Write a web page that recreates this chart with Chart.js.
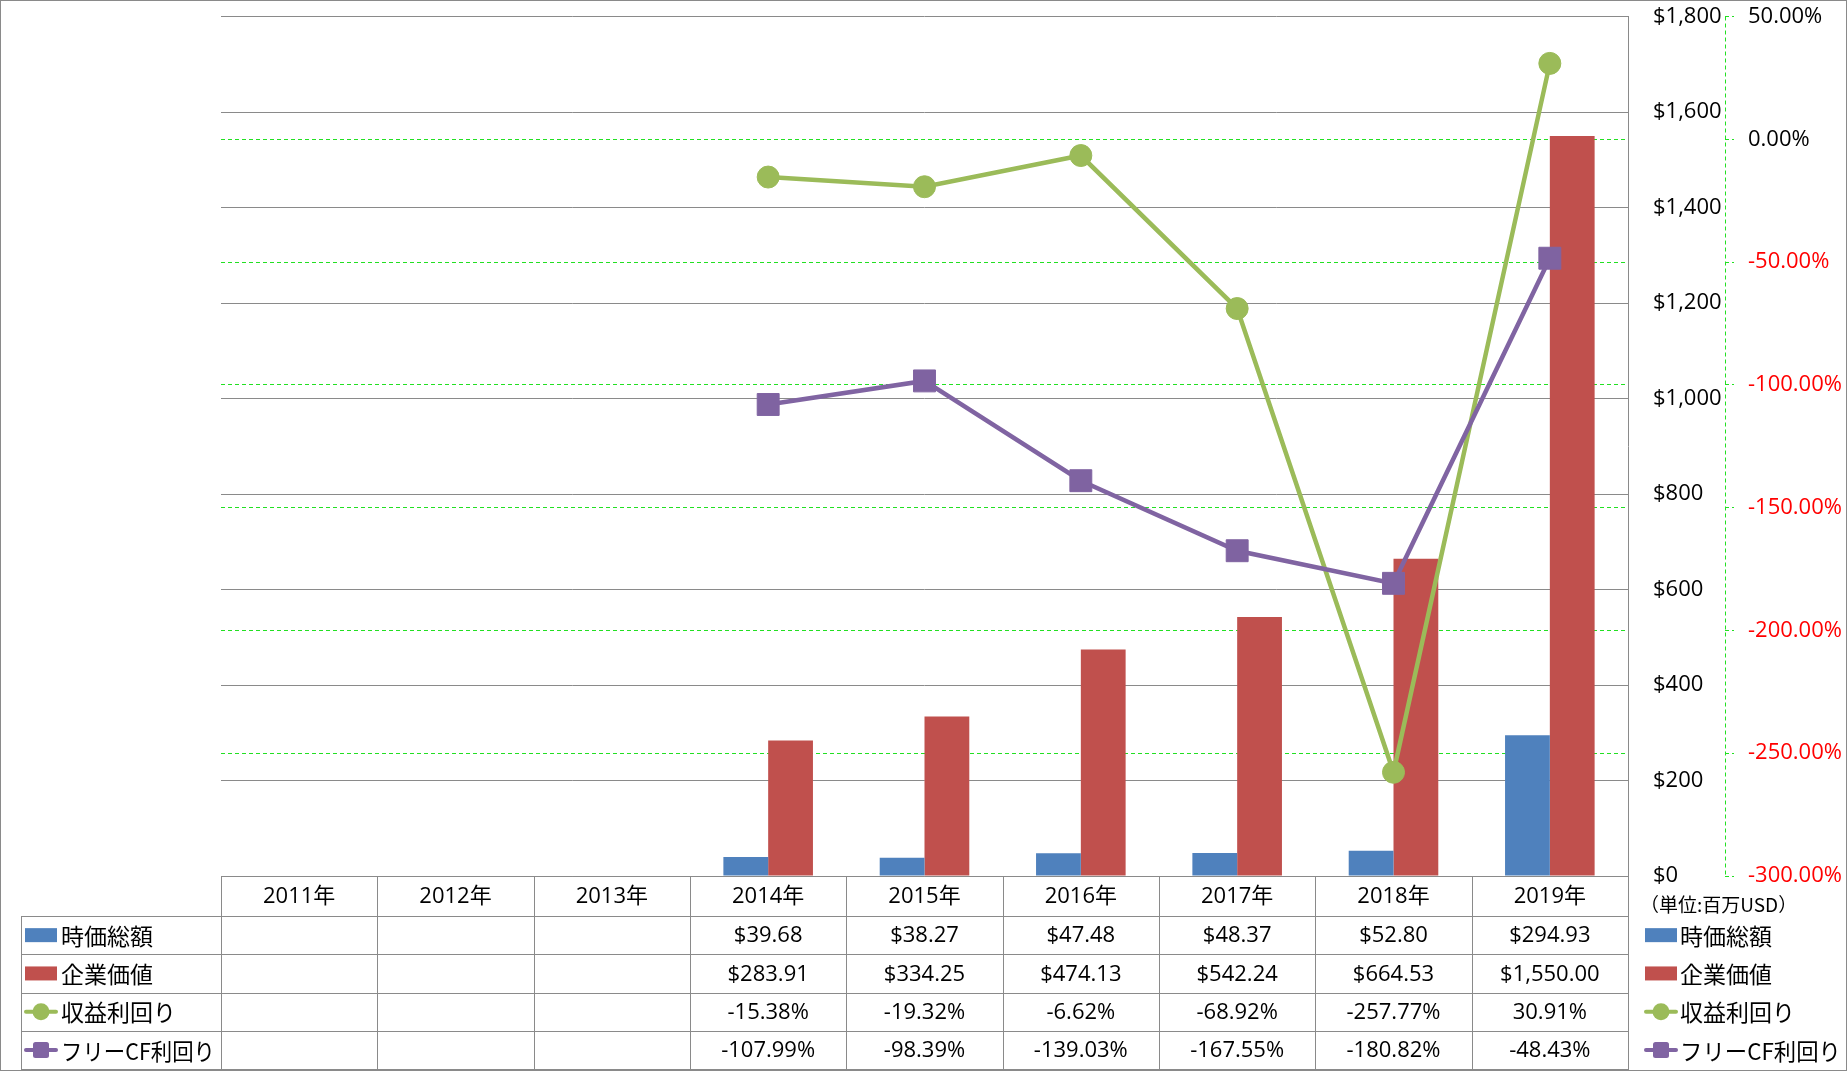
<!DOCTYPE html>
<html><head><meta charset="utf-8">
<script src="https://cdn.jsdelivr.net/npm/chart.js@4.4.1/dist/chart.umd.min.js"></script>
<style>html,body{margin:0;padding:0;background:#fff;overflow:hidden}#wrap{width:1847px;height:1071px}</style>
</head><body><div id="wrap"><canvas id="c" width="1847" height="1071"></canvas></div>
<script>
const categories = ['2011年','2012年','2013年','2014年','2015年','2016年','2017年','2018年','2019年'];
const marketCap = [null,null,null,39.68,38.27,47.48,48.37,52.80,294.93];
const enterpriseValue = [null,null,null,283.91,334.25,474.13,542.24,664.53,1550.00];
const earningsYield = [null,null,null,-15.38,-19.32,-6.62,-68.92,-257.77,30.91];
const fcfYield = [null,null,null,-107.99,-98.39,-139.03,-167.55,-180.82,-48.43];
const seriesNames = ['時価総額','企業価値','収益利回り','フリーCF利回り'];
const unitLabel = '（単位:百万USD）';
const usdRange = [0, 1800, 200];
const pctRange = [-300, 50, 50];

const BLUE='#4F81BD', RED='#C0504D', GREEN='#9BBB59', PURPLE='#8064A2';
const GRID='#8a8a8a', DGREEN='#22e022';
const LATIN='"Open Sans","Noto Sans CJK JP",sans-serif';
const CJK='"Noto Sans CJK JP",sans-serif';

const fmtUSD = v => '$' + v.toLocaleString('en-US',{minimumFractionDigits:2,maximumFractionDigits:2});
const fmtPct = v => v.toFixed(2) + '%';
const tableRows = [
  {vals: marketCap, fmt: fmtUSD},
  {vals: enterpriseValue, fmt: fmtUSD},
  {vals: earningsYield, fmt: fmtPct},
  {vals: fcfYield, fmt: fmtPct}
];

function drawMarker(ctx, idx, x, y){
  ctx.save();
  if (idx === 0 || idx === 1){
    ctx.fillStyle = idx===0?BLUE:RED;
    ctx.fillRect(x, y-7, 32, 14);
  } else {
    const col = idx===2?GREEN:PURPLE;
    ctx.strokeStyle = col; ctx.lineWidth = 4; ctx.lineCap='round';
    ctx.beginPath(); ctx.moveTo(x+1,y); ctx.lineTo(x+31,y); ctx.stroke();
    ctx.fillStyle = col;
    if (idx===2){ ctx.beginPath(); ctx.arc(x+16,y,8.5,0,Math.PI*2); ctx.fill(); }
    else { ctx.beginPath(); ctx.roundRect(x+8,y-8,16,16,2.5); ctx.fill(); }
  }
  ctx.restore();
}

function fitText(ctx, text, x, y, maxW){
  const w = ctx.measureText(text).width;
  if (w <= maxW){ ctx.fillText(text, x, y); return; }
  ctx.save();
  ctx.translate(x, y);
  ctx.scale(maxW / w, 1);
  ctx.fillText(text, 0, 0);
  ctx.restore();
}

const tablePlugin = {
  id:'dataTable',
  afterDraw(chart){
    const {ctx, chartArea, scales} = chart;
    const x = scales.x;
    const n = categories.length;
    const L = chartArea.left, R = chartArea.right;
    const cw = (R-L)/n;
    const top = chartArea.bottom;
    const headH = 40, rowH = 38.3;
    const bottom = top + headH + rowH*4;
    const labelLeft = 21;
    const p = v => Math.round(v)+0.5;
    ctx.save();
    // y1 dashed axis line
    const y1 = scales.y1;
    ctx.strokeStyle = DGREEN; ctx.lineWidth = 1; ctx.setLineDash([4,3]);
    ctx.beginPath(); ctx.moveTo(p(y1.left), y1.top); ctx.lineTo(p(y1.left), y1.bottom); ctx.stroke();
    ctx.setLineDash([]);
    // table grid
    ctx.strokeStyle = GRID; ctx.lineWidth = 1;
    ctx.beginPath();
    ctx.moveTo(L, p(top)); ctx.lineTo(R, p(top));
    for (let r=0;r<=4;r++){
      const yy = p(top + headH + r*rowH);
      ctx.moveTo(labelLeft, yy); ctx.lineTo(R+1, yy);
    }
    for (let i=0;i<=n;i++){
      const xx = p(L + i*cw);
      ctx.moveTo(xx, top); ctx.lineTo(xx, bottom);
    }
    ctx.moveTo(p(labelLeft), top+headH); ctx.lineTo(p(labelLeft), bottom);
    ctx.stroke();
    // header
    ctx.fillStyle = '#000';
    ctx.textAlign = 'center'; ctx.textBaseline = 'middle';
    ctx.font = '22px '+LATIN;
    categories.forEach((c,i)=>{ ctx.fillText(c, x.getPixelForValue(i), top + headH/2 + 1); });
    // rows
    tableRows.forEach((row, r)=>{
      const yc = top + headH + r*rowH + rowH/2 + 1;
      row.vals.forEach((v,i)=>{
        if (v === null) return;
        ctx.fillText(row.fmt(v), x.getPixelForValue(i), yc);
      });
    });
    // legends (left in table, right side)
    ctx.textAlign = 'left';
    ctx.font = '23px '+CJK;
    seriesNames.forEach((name, r)=>{
      const yc = top + headH + r*rowH + rowH/2;
      drawMarker(ctx, r, 25, yc);
      ctx.fillStyle='#000';
      fitText(ctx, name, 61, yc+1, L - 61 - 6);
      drawMarker(ctx, r, 1645, yc);
      ctx.fillStyle='#000';
      fitText(ctx, name, 1680, yc+1, chart.width - 1680 - 6);
    });
    // unit label
    ctx.font = '19px '+CJK;
    ctx.fillText(unitLabel, 1640, 905);
    // outer border
    ctx.strokeStyle = GRID;
    ctx.strokeRect(0.5,0.5,chart.width-1,chart.height-1);
    ctx.restore();
  }
};

new Chart(document.getElementById('c'), {
  type:'bar',
  data:{
    labels: categories,
    datasets:[
      {type:'line', label:seriesNames[3], data:fcfYield, yAxisID:'y1', order:1,
       borderColor:PURPLE, backgroundColor:PURPLE, borderWidth:4.5,
       pointStyle:'rect', pointRadius:15.5, pointBackgroundColor:'#7f63a1', pointBorderColor:PURPLE, pointBorderWidth:1},
      {type:'line', label:seriesNames[2], data:earningsYield, yAxisID:'y1', order:2,
       borderColor:GREEN, backgroundColor:GREEN, borderWidth:4.5,
       pointStyle:'circle', pointRadius:11, pointBackgroundColor:GREEN, pointBorderColor:GREEN, pointBorderWidth:1},
      {label:seriesNames[0], data:marketCap, backgroundColor:BLUE, yAxisID:'y', order:3,
       categoryPercentage:0.573, barPercentage:1.0},
      {label:seriesNames[1], data:enterpriseValue, backgroundColor:RED, yAxisID:'y', order:4,
       categoryPercentage:0.573, barPercentage:1.0}
    ]
  },
  options:{
    responsive:false, animation:false, devicePixelRatio:1,
    layout:{padding:{left:221, top:15, right:0, bottom:195}},
    plugins:{legend:{display:false}, tooltip:{enabled:false}},
    scales:{
      x:{display:false, offset:true},
      y:{position:'right', weight:0, min:usdRange[0], max:usdRange[1],
         ticks:{stepSize:usdRange[2], padding:0, crossAlign:'near', color:'#000',
                font:{family:LATIN, size:22}, callback:v=>'$'+v.toLocaleString('en-US')},
         grid:{color:GRID, lineWidth:1, drawTicks:true, tickLength:25, tickColor:'rgba(0,0,0,0)'},
         border:{display:true, color:GRID, width:1},
         afterFit:s=>{s.width=97;}},
      y1:{position:'right', weight:1, min:pctRange[0], max:pctRange[1],
         ticks:{stepSize:pctRange[2], padding:0, crossAlign:'near',
                color:c=>(c.tick && c.tick.value<0)?'#ff0000':'#000',
                font:{family:LATIN, size:22}, callback:v=>fmtPct(v)},
         grid:{color:c=>(c.tick && (c.tick.value===pctRange[1]||c.tick.value===pctRange[0]))?'rgba(0,0,0,0)':DGREEN,
               lineWidth:1, drawTicks:true, tickLength:23, tickColor:DGREEN, tickBorderDash:[4,3,2,100]},
         border:{display:false, dash:[4,3]},
         afterFit:s=>{s.width=122;}}
    }
  },
  plugins:[tablePlugin]
});
</script></body></html>
